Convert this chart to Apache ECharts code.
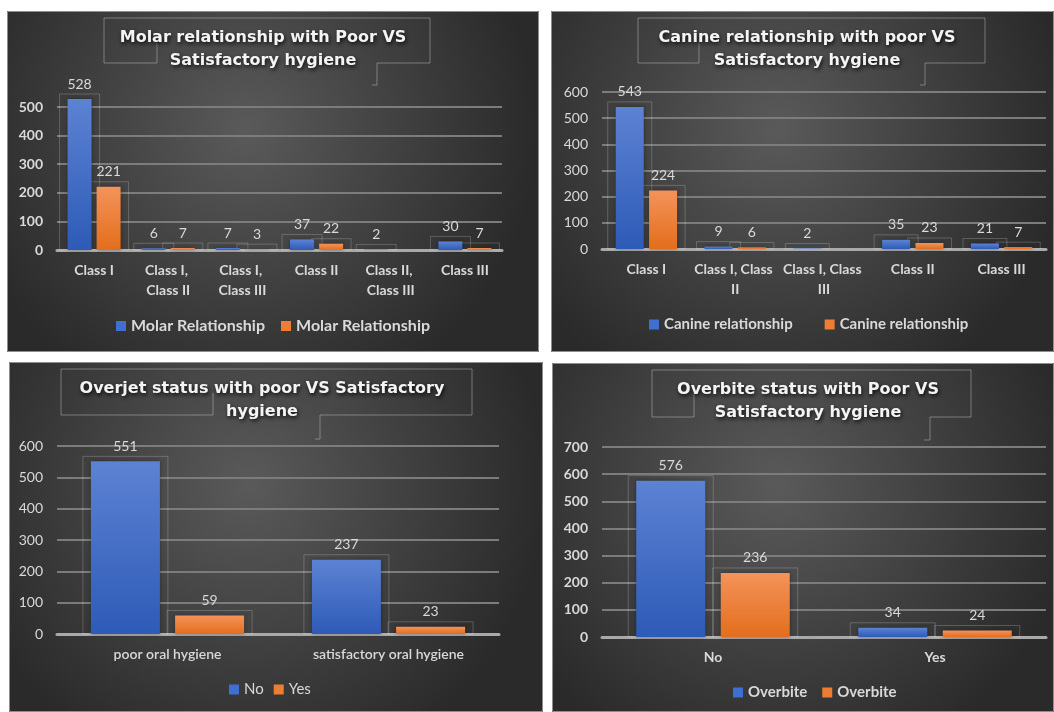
<!DOCTYPE html>
<html>
<head>
<meta charset="utf-8">
<script src="https://cdn.jsdelivr.net/npm/echarts@6/dist/echarts.min.js"></script>
<style>
  body { margin: 0; background: #fff; width: 1054px; height: 712px; overflow: hidden; position: relative; }
  .panel { position: absolute; }
</style>
</head>
<body>
<div id="c1" class="panel" style="left:7px;top:11px;width:532px;height:341px"></div>
<div id="c2" class="panel" style="left:551px;top:11px;width:503px;height:341px"></div>
<div id="c3" class="panel" style="left:9px;top:362px;width:534px;height:350px"></div>
<div id="c4" class="panel" style="left:552px;top:363px;width:502px;height:349px"></div>
<script>
// ---- data ----
var molarTitle = 'Molar relationship with Poor VS\nSatisfactory hygiene';
var molarCats = ['Class I', 'Class I, Class II', 'Class I, Class III', 'Class II', 'Class II, Class III', 'Class III'];
var molarPoor = [528, 6, 7, 37, 2, 30];
var molarSat = [221, 7, 3, 22, null, 7];
var molarLegend = ['Molar Relationship', 'Molar Relationship'];

var canineTitle = 'Canine relationship with poor VS\nSatisfactory hygiene';
var canineCats = ['Class I', 'Class I, Class II', 'Class I, Class III', 'Class II', 'Class III'];
var caninePoor = [543, 9, 2, 35, 21];
var canineSat = [224, 6, null, 23, 7];
var canineLegend = ['Canine relationship', 'Canine relationship'];

var overjetTitle = 'Overjet status with poor VS Satisfactory\nhygiene';
var overjetCats = ['poor oral hygiene', 'satisfactory oral hygiene'];
var overjetNo = [551, 237];
var overjetYes = [59, 23];
var overjetLegend = ['No', 'Yes'];

var overbiteTitle = 'Overbite status with Poor VS\nSatisfactory hygiene';
var overbiteCats = ['No', 'Yes'];
var overbitePoor = [576, 34];
var overbiteSat = [236, 24];
var overbiteLegend = ['Overbite', 'Overbite'];

var seriesKeys = ['s0', 's1'];

// ---- styling ----
var TXT = '#d9d9d9';
var FONT = 'Lato';
var barFills = [
  new echarts.graphic.LinearGradient(0, 0, 0, 1, [{offset: 0, color: '#5c82d3'}, {offset: 1, color: '#2e5bb7'}]),
  new echarts.graphic.LinearGradient(0, 0, 0, 1, [{offset: 0, color: '#f4935a'}, {offset: 1, color: '#e36e1c'}])
];
var legendFills = ['#3f6fd0', '#ee7d33'];

function labelBox(values, idx, bw, gap) {
  var pts = [];
  values.forEach(function (v, i) { if (v != null) pts.push([i, v]); });
  return {
    type: 'custom', silent: true, z: 1, clip: false,
    data: pts,
    renderItem: function (params, api) {
      var top = api.coord([api.value(0), api.value(1)]);
      var base = api.coord([api.value(0), 0]);
      var off = (bw + bw * gap) / 2 * (idx === 0 ? -1 : 1);
      var cx = top[0] + off;
      return {
        type: 'rect',
        shape: {x: cx - bw / 2 - 8, y: top[1] - 5, width: bw + 16, height: base[1] - top[1] + 5},
        style: {fill: 'none', stroke: 'rgba(255,255,255,0.2)', lineWidth: 1}
      };
    }
  };
}

function frame(f, w, h) {
  var L = f[0], R = f[1], T = f[2], B = f[3], A = f[4], At = f[5], Bx = f[6], Bb = f[7], Bh = f[8];
  var st = {fill: 'none', stroke: 'rgba(200,200,200,0.45)', lineWidth: 1};
  return [
    {type: 'rect', shape: {x: 0.5, y: 0.5, width: w - 1, height: h - 1}, style: {fill: 'none', stroke: '#8e8e8e', lineWidth: 1}, silent: true},
    {type: 'polyline', shape: {points: [[A, B], [L, B], [L, T], [R, T], [R, B], [Bx, B], [Bx, Bb], [Bh, Bb]]}, style: st, silent: true},
    {type: 'polyline', shape: {points: [[A, At], [A, B]]}, style: st, silent: true}
  ];
}

function makeChart(c) {
  var chart = echarts.init(document.getElementById(c.el));
  var series = [];
  c.values.forEach(function (vals, i) {
    series.push(labelBox(vals, i, c.bw, c.gap));
  });
  c.values.forEach(function (vals, i) {
    series.push({
      name: seriesKeys[i],
      type: 'bar',
      data: vals,
      z: 3,
      clip: false,
      barWidth: c.bw,
      barGap: (c.gap * 100) + '%',
      itemStyle: {color: barFills[i], shadowColor: 'rgba(0,0,0,0.35)', shadowBlur: 4},
      label: {
        show: true, position: 'top', distance: 8,
        color: TXT, fontFamily: FONT, fontSize: 14
      }
    });
  });

  chart.setOption({
    backgroundColor: {
      type: 'radial', x: 0.45, y: 0.35, r: 0.85,
      colorStops: [{offset: 0, color: '#5a5a5a'}, {offset: 1, color: '#2a2a2a'}]
    },
    animation: false,
    title: {
      text: c.title,
      left: c.titleX, top: c.titleTop, textAlign: 'center', padding: 0,
      textStyle: {
        color: '#f4f4f4', fontFamily: 'DejaVu Sans', fontWeight: 'bold', fontSize: 16, lineHeight: 23,
        textShadowColor: 'rgba(0,0,0,0.85)', textShadowBlur: 4, textShadowOffsetX: 1, textShadowOffsetY: 2
      }
    },
    legend: {
      data: seriesKeys.map(function (k, i) { return {name: k, itemStyle: {color: legendFills[i]}}; }),
      formatter: function (name) { return c.legend[seriesKeys.indexOf(name)]; },
      left: c.legendLeft, top: c.legendTop,
      icon: 'rect', itemWidth: 10, itemHeight: 10, itemGap: c.legendGap, padding: 0,
      textStyle: {color: TXT, fontFamily: FONT, fontSize: c.legendSize, fontWeight: c.legendWeight}
    },
    grid: c.grid,
    xAxis: {
      type: 'category',
      data: c.cats,
      axisLine: {lineStyle: {color: '#a9a9a9', width: 3}},
      axisTick: {show: false},
      axisLabel: {
        interval: 0, color: TXT, fontFamily: FONT, fontSize: 14, fontWeight: c.xWeight,
        margin: 10, lineHeight: 20, width: c.catWidth, overflow: 'break'
      }
    },
    yAxis: {
      type: 'value', min: 0, max: c.max, interval: 100,
      axisLine: {show: false},
      axisTick: {show: false},
      axisLabel: {color: TXT, fontFamily: FONT, fontSize: 14, fontWeight: c.yWeight, margin: 14},
      splitLine: {lineStyle: {color: '#7c7c7c', width: 2}}
    },
    graphic: frame(c.frame, c.w, c.h),
    series: series
  });
  return chart;
}

makeChart({
  el: 'c1', w: 532, h: 341, title: molarTitle, cats: molarCats, values: [molarPoor, molarSat], legend: molarLegend,
  max: 500, grid: {left: 50, right: 37, top: 96, bottom: 102}, bw: 24, gap: 0.21, catWidth: 70,
  xWeight: 'bold', yWeight: 'bold', legendSize: 16, legendWeight: 'bold', legendLeft: 109, legendTop: 307, legendGap: 16,
  titleX: 256, titleTop: 15, frame: [97, 423, 7, 52, 150, 32, 370, 74, 365]
});

makeChart({
  el: 'c2', w: 503, h: 341, title: canineTitle, cats: canineCats, values: [caninePoor, canineSat], legend: canineLegend,
  max: 600, grid: {left: 51, right: 8, top: 81, bottom: 103}, bw: 28, gap: 0.19, catWidth: 86,
  xWeight: 'bold', yWeight: 'normal', legendSize: 15, legendWeight: 'bold', legendLeft: 98, legendTop: 306, legendGap: 32,
  titleX: 256, titleTop: 15, frame: [87, 434, 7, 52, 148, 32, 374, 74, 369]
});

makeChart({
  el: 'c3', w: 534, h: 350, title: overjetTitle, cats: overjetCats, values: [overjetNo, overjetYes], legend: overjetLegend,
  max: 600, grid: {left: 48, right: 44, top: 84, bottom: 78}, bw: 69, gap: 0.22, catWidth: 220,
  xWeight: 600, yWeight: 'normal', legendSize: 15, legendWeight: 'normal', legendLeft: 220, legendTop: 320, legendGap: 10,
  titleX: 253, titleTop: 15, frame: [52, 463, 7, 53, 204, 31, 311, 77, 306]
});

makeChart({
  el: 'c4', w: 502, h: 349, title: overbiteTitle, cats: overbiteCats, values: [overbitePoor, overbiteSat], legend: overbiteLegend,
  max: 700, grid: {left: 50, right: 8, top: 84, bottom: 75}, bw: 69, gap: 0.225, catWidth: 220,
  xWeight: 'bold', yWeight: 'bold', legendSize: 15, legendWeight: 'bold', legendLeft: 181, legendTop: 322, legendGap: 15,
  titleX: 256, titleTop: 15, frame: [100, 419, 7, 54, 142, 30, 378, 77, 372]
});
</script>
</body>
</html>
